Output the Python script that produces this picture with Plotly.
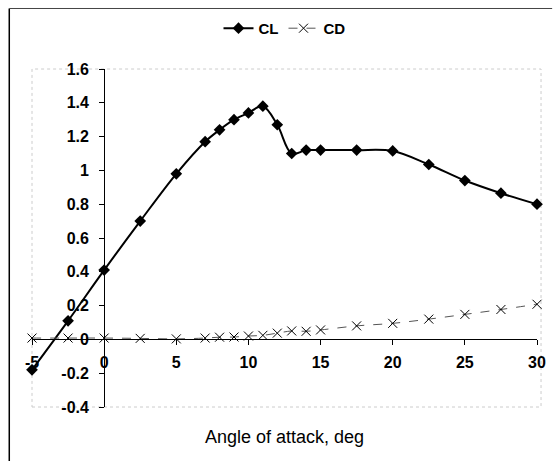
import plotly.graph_objects as go

angle = [-5, -2.5, 0, 2.5, 5, 7, 8, 9, 10, 11, 12, 13, 14, 15, 17.5, 20, 22.5, 25, 27.5, 30]
cl = [-0.18, 0.11, 0.41, 0.70, 0.98, 1.17, 1.24, 1.30, 1.34, 1.38, 1.27, 1.10, 1.12, 1.12, 1.12, 1.115, 1.035, 0.94, 0.865, 0.80]
cd = [0.008, 0.008, 0.008, 0.006, 0.003, 0.008, 0.013, 0.014, 0.02, 0.024, 0.037, 0.05, 0.048, 0.056, 0.08, 0.095, 0.12, 0.148, 0.177, 0.208]

x_ticks = [-5, 0, 5, 10, 15, 20, 25, 30]
y_ticks = [-0.4, -0.2, 0, 0.2, 0.4, 0.6, 0.8, 1, 1.2, 1.4, 1.6]
y_tick_text = ["-0.4", "-0.2", "0", "0.2", "0.4", "0.6", "0.8", "1", "1.2", "1.4", "1.6"]

FONT = "Liberation Sans, Arial, sans-serif"
TICK = dict(family=FONT, size=16, color="black", weight="bold")
LEG = dict(family=FONT, size=15, color="black", weight="bold")
TITLE = dict(family=FONT, size=18, color="black", weight="normal")

fig = go.Figure()
fig.add_trace(go.Scatter(
    x=angle, y=cl, name="CL", mode="lines+markers",
    line=dict(color="black", width=2, shape="spline", smoothing=1),
    marker=dict(symbol="diamond", size=9, color="black"),
    cliponaxis=False,
))
fig.add_trace(go.Scatter(
    x=angle, y=cd, name="CD", mode="lines+markers",
    line=dict(color="#555555", width=1, dash="dash", shape="spline", smoothing=1),
    marker=dict(symbol="x-thin-open", size=9, color="black", line=dict(width=1, color="#333333")),
    cliponaxis=False,
))

fig.update_layout(
    width=558, height=461,
    margin=dict(l=32, r=14, t=66, b=54),
    paper_bgcolor="white", plot_bgcolor="white",
    font=dict(family=FONT, size=16, color="black"),
    showlegend=True,
    legend=dict(orientation="h", x=0.5, xanchor="center", y=1.12, yanchor="middle",
                font=LEG, bgcolor="rgba(0,0,0,0)", itemwidth=30, tracegroupgap=0),
    xaxis=dict(
        range=[-5, 30], tickvals=x_ticks, ticktext=[str(v) for v in x_ticks],
        anchor="free", position=0.2, showline=True, linecolor="black", linewidth=1,
        ticks="outside", ticklen=5, tickcolor="black", showgrid=False, zeroline=False,
        tickfont=TICK, ticklabelstandoff=3,
    ),
    yaxis=dict(
        range=[-0.4, 1.6], tickvals=y_ticks, ticktext=y_tick_text,
        anchor="free", position=5 / 35, showline=True, linecolor="black", linewidth=1,
        ticks="outside", ticklen=5, tickcolor="black", showgrid=False, zeroline=False,
        tickfont=TICK, ticklabelstandoff=7,
    ),
    annotations=[dict(
        text="Angle of attack, deg", xref="paper", yref="paper", x=0.5, y=-0.088,
        xanchor="center", yanchor="middle", showarrow=False, font=TITLE,
    )],
    shapes=[
        dict(type="rect", xref="paper", yref="paper", x0=0, x1=1.008, y0=0, y1=1,
             line=dict(color="#cccccc", width=1, dash="dot"), layer="below"),
        dict(type="line", xref="paper", yref="paper", x0=-0.045, x1=-0.045, y0=-0.16, y1=1.179,
             line=dict(color="black", width=1.5)),
        dict(type="line", xref="paper", yref="paper", x0=-0.045, x1=1.03, y0=1.179, y1=1.179,
             line=dict(color="#444444", width=1)),
    ],
)

fig.write_html("out.html")
